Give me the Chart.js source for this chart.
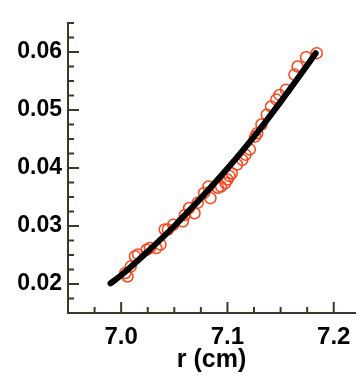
<!DOCTYPE html>
<html lang="en">
<head>
<meta charset="UTF-8">
<title>r (cm)</title>
<script src="https://cdn.jsdelivr.net/npm/chart.js"></script>
<style>
  html, body { margin: 0; padding: 0; background: #fff; }
  #wrap { width: 362px; height: 383px; }
</style>
</head>
<body>
<div id="wrap"><canvas id="chart"></canvas></div>
<script>
// fitted curve (black)
const fitR = [6.990, 7.0, 7.025, 7.05, 7.075, 7.1, 7.125, 7.15, 7.175, 7.183];
const fitV = [0.0201, 0.0215, 0.0256, 0.0300, 0.0348, 0.0399, 0.0454, 0.0514, 0.0577, 0.0598];

// measured points (red circles)
const measR = [7.184, 7.174, 7.166, 7.163, 7.155, 7.149, 7.146, 7.141, 7.137, 7.132,
               7.128, 7.126, 7.121, 7.117, 7.114, 7.109, 7.104, 7.102, 7.100, 7.098,
               7.094, 7.091, 7.084, 7.082, 7.078, 7.072, 7.069, 7.064, 7.060, 7.058,
               7.049, 7.044, 7.041, 7.037, 7.033, 7.027, 7.024, 7.016, 7.013, 7.009,
               7.006, 7.004];
const measV = [0.0598, 0.0591, 0.0575, 0.0561, 0.0535, 0.0526, 0.0518, 0.0506, 0.0492, 0.0475,
               0.0460, 0.0454, 0.0432, 0.0423, 0.0414, 0.0406, 0.0391, 0.0386, 0.0380, 0.0374,
               0.0368, 0.0366, 0.0348, 0.0368, 0.0357, 0.0340, 0.0322, 0.0331, 0.0319, 0.0308,
               0.0302, 0.0294, 0.0294, 0.0268, 0.0262, 0.0262, 0.0259, 0.0251, 0.0248, 0.0230,
               0.0213, 0.0219];

const xTicks = [7.0, 7.1, 7.2];
const xMinor = [6.975, 7.025, 7.05, 7.075, 7.125, 7.15, 7.175];
const yTicks = [0.02, 0.03, 0.04, 0.05, 0.06];
const yMinor = [0.015, 0.0175, 0.0225, 0.025, 0.0275, 0.0325, 0.035, 0.0375,
                0.0425, 0.045, 0.0475, 0.0525, 0.055, 0.0575, 0.0625, 0.065];

const axisColor = 'rgb(58,56,40)';

// ticks pointing into the plot, major and minor
const inwardTicks = {
    id: 'inwardTicks',
    afterDraw(chart) {
        const ctx = chart.ctx;
        const a = chart.chartArea;
        const xs = chart.scales.x;
        const ys = chart.scales.y;
        const seg = [];
        xTicks.forEach(v => seg.push([xs.getPixelForValue(v), a.bottom, xs.getPixelForValue(v), a.bottom - 11]));
        xMinor.forEach(v => seg.push([xs.getPixelForValue(v), a.bottom, xs.getPixelForValue(v), a.bottom - 6]));
        yTicks.forEach(v => seg.push([a.left, ys.getPixelForValue(v), a.left + 11, ys.getPixelForValue(v)]));
        yMinor.forEach(v => seg.push([a.left, ys.getPixelForValue(v), a.left + 6, ys.getPixelForValue(v)]));
        ctx.save();
        ctx.strokeStyle = axisColor;
        ctx.lineWidth = 2;
        seg.forEach(s => {
            ctx.beginPath();
            ctx.moveTo(s[0], s[1]);
            ctx.lineTo(s[2], s[3]);
            ctx.stroke();
        });
        ctx.restore();
    }
};

new Chart(document.getElementById('chart'), {
    type: 'scatter',
    data: {
        datasets: [
            {
                type: 'line',
                data: fitR.map((r, i) => ({ x: r, y: fitV[i] })),
                borderColor: '#000',
                borderWidth: 6,
                borderCapStyle: 'round',
                cubicInterpolationMode: 'monotone',
                pointRadius: 0,
                fill: false,
                order: 0
            },
            {
                data: measR.map((r, i) => ({ x: r, y: measV[i] })),
                borderColor: 'rgb(255,66,24)',
                backgroundColor: 'rgba(0,0,0,0)',
                borderWidth: 1.5,
                pointRadius: 5.5,
                order: 1
            }
        ]
    },
    options: {
        responsive: true,
        maintainAspectRatio: false,
        animation: false,
        layout: { padding: { top: 23, right: 3, left: 0, bottom: 0 } },
        plugins: { legend: { display: false }, tooltip: { enabled: false } },
        scales: {
            x: {
                type: 'linear',
                min: 6.95,
                max: 7.22,
                afterBuildTicks: s => { s.ticks = xTicks.map(v => ({ value: v })); },
                afterFit: s => { s.height = 70; },
                grid: { display: false, drawTicks: false },
                border: { color: axisColor, width: 2 },
                ticks: {
                    padding: 10,
                    color: '#000',
                    font: { family: 'Liberation Sans', size: 24, weight: 'bold' },
                    callback: v => v.toFixed(1)
                },
                title: {
                    display: true,
                    text: 'r (cm)',
                    color: '#000',
                    font: { family: 'Liberation Sans', size: 25, weight: 'bold' },
                    padding: { top: 0, bottom: 8 }
                }
            },
            y: {
                type: 'linear',
                min: 0.015,
                max: 0.065,
                afterBuildTicks: s => { s.ticks = yTicks.map(v => ({ value: v })); },
                afterFit: s => { s.width = 68; },
                grid: { display: false, drawTicks: false },
                border: { color: axisColor, width: 2 },
                ticks: {
                    padding: 6,
                    color: '#000',
                    font: { family: 'Liberation Sans', size: 23, weight: 'bold' },
                    callback: v => v.toFixed(2)
                }
            }
        }
    },
    plugins: [inwardTicks]
});
</script>
</body>
</html>
